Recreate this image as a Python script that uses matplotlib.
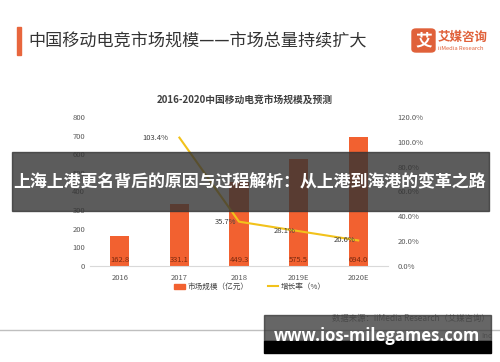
import matplotlib
matplotlib.use('Agg')
import matplotlib.pyplot as plt
from matplotlib.patches import Rectangle, FancyBboxPatch
from matplotlib.lines import Line2D
from matplotlib.ticker import FuncFormatter

plt.rcParams['font.family'] = ['Noto Sans CJK SC', 'DejaVu Sans']

years = ['2016', '2017', '2018', '2019E', '2020E']
market_size = [162.8, 331.1, 449.3, 575.5, 694.0]
growth_years = ['2017', '2018', '2019E', '2020E']
growth_rate = [103.4, 35.7, 28.1, 20.6]

bar_color = '#F26130'
line_color = '#F2C21B'
tick_color = '#595959'

fig = plt.figure(figsize=(5.0, 3.62), dpi=100)
fig.patch.set_facecolor('white')

# header
fig.patches.append(Rectangle((17 / 500, 1 - 55 / 362), 3.5 / 500, 28 / 362,
                             transform=fig.transFigure, color='#E8663D'))
fig.text(28 / 500, 1 - 41 / 362, '中国移动电竞市场规模——市场总量持续扩大',
         fontsize=12.3, color='#333333', va='center', ha='left')

# logo
fig.patches.append(FancyBboxPatch((412 / 500, 1 - 52 / 362), 23 / 500, 23 / 362,
                                  boxstyle='round,pad=0,rounding_size=0.008',
                                  transform=fig.transFigure, color='#E0613A'))
fig.text(423.5 / 500, 1 - 40.5 / 362, '艾', fontsize=12, color='white',
         fontweight='bold', ha='center', va='center')
fig.text(438 / 500, 1 - 37 / 362, '艾媒咨询', fontsize=9, color='#E0613A',
         fontweight='bold', ha='left', va='center')
fig.text(438 / 500, 1 - 48.5 / 362, 'iiMedia Research', fontsize=4.2,
         color='#E0613A', ha='left', va='center')

# chart
ax = fig.add_axes([90 / 500, 1 - 266 / 362, 298 / 500, 149 / 362])
x = list(range(len(years)))
ax.bar(x, market_size, width=0.32, color=bar_color, zorder=2)
for xi, v in zip(x, market_size):
    ax.text(xi, 12, '%.1f' % v, ha='center', va='bottom', fontsize=5.5,
            color='#7A2A10', zorder=3)
ax.set_xlim(-0.5, len(years) - 0.5)
ax.set_ylim(0, 800)
ax.set_yticks(range(0, 801, 100))
ax.set_xticks(x)
ax.set_xticklabels(years)
ax.tick_params(axis='both', length=0, labelsize=5.5, colors=tick_color)
ax.tick_params(axis='x', pad=6)
for s in ['top', 'right', 'left']:
    ax.spines[s].set_visible(False)
ax.spines['bottom'].set_color('#D9D9D9')

ax2 = ax.twinx()
gx = [years.index(y) for y in growth_years]
ax2.plot(gx, growth_rate, color=line_color, linewidth=1.5, zorder=4)
label_dx = [-0.18, -0.05, -0.05, -0.05]
for xi, v, dx in zip(gx, growth_rate, label_dx):
    ax2.text(xi + dx, v, '%.1f%%' % v, ha='right', va='center', fontsize=5.5,
             color='#404040', zorder=5)
ax2.set_ylim(0, 120)
ax2.set_yticks(range(0, 121, 20))
ax2.yaxis.set_major_formatter(FuncFormatter(lambda v, p: '%.1f%%' % v))
ax2.tick_params(axis='y', length=0, labelsize=5.5, colors=tick_color, pad=7)
for s in ['top', 'right', 'left', 'bottom']:
    ax2.spines[s].set_visible(False)

fig.text(245 / 500, 1 - 100 / 362, '2016-2020中国移动电竞市场规模及预测',
         fontsize=7, fontweight='bold', color='#404040', ha='center', va='center')

# legend
handles = [Rectangle((0, 0), 1, 1, color=bar_color),
           Line2D([0], [0], color=line_color, linewidth=1.5)]
fig.legend(handles, ['市场规模（亿元）', '增长率（%）'], loc='center',
           bbox_to_anchor=(250 / 500, 1 - 287 / 362), ncol=2, frameon=False,
           fontsize=5.5, handlelength=1.4, handleheight=0.6, columnspacing=2.5,
           labelcolor='#404040', handletextpad=0.3)

# footer
fig.text(490 / 500, 1 - 318 / 362, '数据来源：iiMedia Research（艾媒咨询）',
         fontsize=6, color='#8C8C8C', ha='right', va='center')
fig.add_artist(Line2D([0, 1], [1 - 330 / 362, 1 - 330 / 362],
                      transform=fig.transFigure, color='#BFBFBF', linewidth=1))
fig.text(492 / 500, 1 - 336 / 362, 'Inc', fontsize=5.5, color='#A0A0A0',
         ha='right', va='center')

# overlay banners
fig.patches.append(Rectangle((12 / 500, 1 - 211 / 362), 477 / 500, 59 / 362,
                             transform=fig.transFigure, color='#333333',
                             alpha=0.8, zorder=10))
fig.text(250 / 500, 1 - 182 / 362,
         '上海上港更名背后的原因与过程解析：从上港到海港的变革之路',
         fontsize=12.2, fontweight='bold', color='white', ha='center',
         va='center', zorder=11)

fig.patches.append(Rectangle((264 / 500, 1 - 341 / 362), 227 / 500, 26 / 362,
                             transform=fig.transFigure, color='#333333',
                             alpha=0.75, zorder=10))
fig.patches.append(Rectangle((264 / 500, 1 - 353 / 362), 227 / 500, 12 / 362,
                             transform=fig.transFigure, color='black', zorder=10))
fig.text(377 / 500, 1 - 336 / 362, 'www.ios-milegames.com', fontsize=12,
         fontweight='bold', color='white', ha='center', va='center', zorder=11,
         family=['Open Sans', 'DejaVu Sans'])

fig.savefig('out.png', dpi=100, facecolor='white')
